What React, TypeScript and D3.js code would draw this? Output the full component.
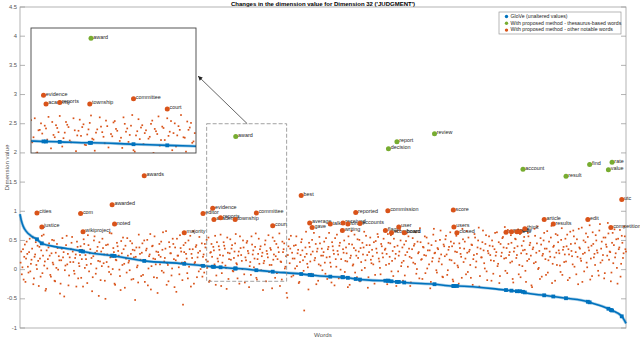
import React from 'react'
import * as d3 from 'd3'

const BLUE = '#0072BD'
const ORANGE = '#D95319'
const GREEN = '#77AC30'
const INK = '#262626'

const title = "Changes in the dimension value for Dimension 32 ('JUDGMENT')"
const yTicks = [-1, -0.5, 0, 0.5, 1, 1.5, 2, 2.5, 3, 3.5, 4, 4.5]
const wordCount = 1000

// notable words (orange): position in the sorted word list, new value, GloVe value
const otherWords = ['cities', 'justice', 'com', 'wikiproject', 'awarded', 'noted', 'awards', 'majority', 'editor', 'evidence', 'academy', 'reports', 'township', 'committee', 'court', 'best', 'average', 'gave', 'talk', 'writing', 'received', 'forum', 'reported', 'accounts', 'flags', 'commission', 'scoreboard', 'user', 'board', 'score', 'users', 'closed', 'related', 'speed', 'early', 'why', 'think', 'article', 'results', 'edit', 'competition', 'utc']
const otherIdx = [28, 36, 100, 104, 152, 156, 205, 271, 302, 318, 320, 331, 355, 390, 417, 464, 478, 482, 512, 532, 533, 541, 554, 561, 603, 607, 613, 625, 634, 715, 716, 721, 802, 811, 820, 825, 833, 865, 880, 937, 975, 993]
const otherValue = [0.97, 0.73, 0.96, 0.65, 1.11, 0.78, 1.61, 0.63, 0.96, 1.05, 0.86, 0.89, 0.86, 0.97, 0.75, 1.27, 0.8, 0.72, 0.78, 0.67, 0.8, 0.78, 0.98, 0.79, 0.67, 1.01, 0.63, 0.73, 0.63, 1.02, 0.73, 0.63, 0.64, 0.65, 0.65, 0.65, 0.7, 0.86, 0.78, 0.86, 0.72, 1.2]
const otherGlove = [0.52, 0.45, 0.32, 0.31, 0.24, 0.235, 0.15, 0.1, 0.065, 0.05, 0.048, 0.04, 0.02, -0.01, -0.035, -0.075, -0.09, -0.095, -0.12, -0.13, -0.13, -0.14, -0.16, -0.17, -0.19, -0.19, -0.2, -0.21, -0.22, -0.28, -0.28, -0.28, -0.35, -0.36, -0.37, -0.37, -0.39, -0.44, -0.46, -0.55, -0.69, -0.8]

// thesaurus-based words (green)
const thesWords = ['award', 'decision', 'report', 'review', 'account', 'result', 'find', 'value', 'rate']
const thesIdx = [356, 608, 622, 684, 830, 901, 940, 971, 977]
const thesValue = [2.28, 2.07, 2.19, 2.33, 1.72, 1.6, 1.8, 1.71, 1.84]
const thesGlove = [0.02, -0.19, -0.21, -0.25, -0.38, -0.49, -0.56, -0.67, -0.7]

// extra points on the GloVe curve (ends of the sorted list)
const gloveEdgeIdx = [0, 2, 5, 10, 18, 60, 1000]
const gloveEdgeVal = [0.95, 0.85, 0.75, 0.66, 0.58, 0.39, -0.92]

// the remaining words after the proposed method (hundredths): odd positions, then even positions
const cloudOdd = [
  12, -8, 35, 22, -21, 48, 5, 30, -3, 17, 55, -15, 26, 8, 41, -28, 19, 33, -6, 60, 14, -33, 2, 38, 24, -12, 51, 9, -19, 29, 44, 0, 16, -24, 36, 21, -46, 7, 58, 27, -10, 13, 46, 31, -2, 20, -29, 39, 11, 25,
  -14, 34, 52, 3, 18, -23, 42, 28, 10, -37, 23, 57, -7, 32, 15, 47, -18, 6, 37, 26, -50, 13, 43, -4, 21, 62, 1, 30, -26, 16, 40, 24, -11, 49, 8, 35, -31, 19, 54, 12, -1, 27, 45, -16, 33, 22, 4, -22, 38, 17,
  29, -9, 50, 14, 36, -27, 23, 61, 6, 41, -13, 18, 31, -40, 25, 9, 48, 34, -5, 20, 66, 11, -20, 39, 28, 2, 44, -30, 16, 53, 24, -8, 37, 12, -60, 30, 46, 19, -15, 5, 58, 27, 35, -24, 13, 42, 21, -3, 32, 8,
  -12, 26, 44, 17, 3, 55, -19, 30, 22, 39, 9, -26, 47, 14, 34, 60, -6, 24, 41, 7, -33, 29, 18, 52, 36, -2, 20, 45, 11, -15, 31, 57, 25, 1, 38, -22, 16, 49, 28, 6, -9, 43, 33, 19, 62, -17, 27, 10, 40, 23,
  -35, 15, 50, 32, 21, -4, 37, 8, 55, 26, -14, 44, 18, 30, -28, 13, 48, 35, 2, 23, -48, 40, 11, 58, 29, -10, 19, 42, 6, 34, -21, 25, 52, 16, -70, 38, 27, 4, 46, 14, -7, 31, 63, 20, -25, 36, 9, 45, 24, -1,
  30, 12, 54, -16, 39, 22, 5, 47, 33, -27, 18, 60, 26, 41, 0, -11, 35, 50, 15, 28, -30, 44, 20, 66, 7, 37, -5, 24, 52, 31, -20, 13, 46, 38, 3, 58, 25, -13, 42, 17, 34, 9, -24, 49, 29, 56, 14, -8, 40, 21,
  -18, 36, 27, 61, 10, 45, -3, 32, 53, 19, -28, 41, 24, 68, 6, 38, 15, -10, 49, 30, 57, 22, -22, 35, 12, 44, 64, 1, 28, -15, 47, 18, 39, 25, -6, 55, 33, 9, -32, 42, 20, 70, 29, -1, 37, 14, 51, 26, -12, 43,
  23, 58, -9, 34, 17, 48, 40, -20, 11, 62, 30, 4, 45, 27, -14, 52, 36, 19, 66, -4, 31, 8, 43, -26, 25, 55, 14, 38, 72, -11, 21, 47, 33, 2, 59, -18, 28, 41, 16, 50, -7, 35, 24, 64, 10, -23, 44, 29, 56, 19,
  -2, 37, 68, 25, 12, 46, -16, 31, 53, 20, 40, -8, 61, 28, 6, 49, 34, -21, 15, 57, 42, 24, -30, 38, 70, 13, 45, 1, 32, 54, -12, 27, 63, 18, 36, -5, 48, 22, 75, 10, 41, -19, 29, 59, 33, 7, 51, -9, 39, 26,
  14, 60, 35, -14, 44, 23, 67, 5, 30, 52, -25, 38, 19, 72, 27, -3, 47, 12, 56, 33, -17, 41, 64, 21, 8, 50, 29, -10, 78, 36, 16, 55, -6, 43, 24, 62, 31, -20, 46, 11, 69, 28, 3, 53, 38, -12, 58, 20, 74, 35,
]
const cloudEven = [
  31, 4, -17, 43, 19, 27, -5, 53, 10, 36, -25, 22, 47, 1, 15, 39, -12, 58, 24, 7, -36, 33, 18, 45, -9, 28, 12, 50, -20, 3, 37, 23, -41, 16, 54, 30, -1, 42, 9, -27, 21, 35, 56, 13, -7, 26, 48, -15, 6, 40,
  18, -29, 44, 25, 8, 59, -3, 35, 20, -13, 50, 29, 2, 39, -45, 14, 31, 53, 11, -19, 42, 26, 5, 63, -8, 22, 37, -24, 17, 46, 32, 0, -35, 28, 55, 10, 41, -5, 24, 15, 49, -17, 34, 21, -52, 38, 7, 60, 27, -11,
  45, 16, -21, 33, 51, 2, 26, -34, 40, 19, 57, 9, -14, 30, 44, 22, -2, 64, 14, 36, -26, 8, 47, 28, -10, 53, 18, 38, -38, 24, 4, 59, 31, -18, 42, 13, 27, -6, 50, 35, -29, 20, 66, 11, 39, -13, 29, 56, 1, 45,
  22, -5, 38, 51, 14, -21, 29, 44, 6, 33, 58, -10, 19, 40, 25, -28, 12, 47, 36, 3, 55, -16, 28, 17, 42, -3, 31, 61, 9, 24, -24, 37, 15, 50, -8, 21, 46, 32, -30, 13, 57, 26, 4, 39, -14, 18, 53, 35, -1, 29,
  11, 43, -20, 27, 59, 8, 34, -32, 17, 49, 23, -6, 38, 62, 14, -17, 30, 45, 5, -40, 25, 52, 36, -12, 19, 41, 2, 57, 28, -23, 13, 47, 33, -2, 22, 65, 10, -34, 39, 26, 51, -9, 16, 44, 31, -19, 56, 7, 36, 24,
  48, -7, 21, 35, 63, 12, -22, 40, 27, 54, 5, 32, -15, 46, 18, 69, 29, -4, 38, 14, 57, -26, 24, 43, 9, 60, 33, -13, 20, 51, 37, -1, 26, 65, 16, 42, -31, 30, 55, 11, 23, 47, -9, 36, 61, 19, 3, 44, 28, 53,
  34, 8, -25, 46, 22, 59, 15, -11, 39, 27, 66, -3, 31, 50, 12, -19, 43, 25, 62, 5, 36, -28, 20, 54, 41, 10, -7, 48, 30, 71, 17, -16, 38, 57, 24, 2, 45, 33, -21, 14, 60, 28, 49, -5, 35, 19, 67, 9, -13, 40,
  52, 26, -1, 39, 64, 16, -17, 45, 31, 58, 7, -24, 37, 22, 70, 13, 48, -8, 29, 55, 34, -14, 42, 18, 61, 4, 27, 50, -29, 36, 21, 67, 11, 44, -3, 32, 57, 25, -19, 40, 15, 63, 30, 6, 47, -11, 23, 54, 38, 73,
  20, -6, 44, 30, 59, 14, -22, 37, 52, 25, 69, 8, -13, 41, 33, 56, -2, 27, 63, 18, 46, -27, 35, 11, 58, 29, 74, 3, -16, 43, 24, 50, 36, -9, 66, 16, 31, 55, -23, 39, 21, 61, 8, 47, 28, -4, 71, 34, 13, 53,
  40, -18, 26, 65, 32, 9, 57, 45, -8, 22, 70, 36, 15, -21, 50, 29, 62, 4, 38, 76, 19, -11, 44, 27, 59, 33, -2, 67, 12, 48, 25, -15, 55, 39, 80, 17, 30, -5, 63, 42, 21, 52, -24, 35, 68, 10, 46, 28, 57, 31,
]

// zoomed region shown in the inset
const zoomIdx = [308, 440]
const zoomVal = [-0.2, 2.5]

const legendItems = ['GloVe (unaltered values)', 'With proposed method - thesaurus-based words', 'With proposed method - other notable words']
const legendColors = [BLUE, GREEN, ORANGE]

const font = "'Liberation Sans', Arial, Helvetica, sans-serif"
const labelSize = 5.4

export default function App() {
  const width = 640
  const height = 351
  const plot = { left: 20, right: 626, top: 7, bottom: 328 }
  const inset = { left: 31, right: 196, top: 28, bottom: 153 }

  const x = d3.scaleLinear().domain([0, wordCount]).range([plot.left, plot.right])
  const y = d3.scaleLinear().domain([-1, 4.5]).range([plot.bottom, plot.top])
  const ix = d3.scaleLinear().domain(zoomIdx).range([inset.left, inset.right])
  const iy = d3.scaleLinear().domain(zoomVal).range([inset.bottom, inset.top])

  const cloud = [
    ...cloudOdd.map((v, i) => ({ idx: 1 + i * 2, v: v / 100 })),
    ...cloudEven.map((v, i) => ({ idx: 2 + i * 2, v: v / 100 })),
  ]
  const others = otherWords.map((w, i) => ({ w, idx: otherIdx[i], v: otherValue[i], g: otherGlove[i] }))
  const thes = thesWords.map((w, i) => ({ w, idx: thesIdx[i], v: thesValue[i], g: thesGlove[i] }))
  const marked = [...others, ...thes].sort((a, b) => a.idx - b.idx)
  const curve = [
    ...marked.map(d => ({ idx: d.idx, v: d.g })),
    ...gloveEdgeIdx.map((idx, i) => ({ idx, v: gloveEdgeVal[i] })),
  ].sort((a, b) => a.idx - b.idx)

  const layer = (sx: any, sy: any, onlyZoom: boolean) => {
    const line = d3.line<any>().x(d => sx(d.idx)).y(d => sy(d.v)).curve(d3.curveMonotoneX)
    const near = (idx: number) => !onlyZoom || (idx >= zoomIdx[0] - 6 && idx <= zoomIdx[1] + 6)
    const inside = (idx: number) => !onlyZoom || (idx >= zoomIdx[0] && idx <= zoomIdx[1])
    const path = line(curve) || ''
    return (
      <g>
        {cloud.filter(d => near(d.idx)).map((d, i) => (
          <rect key={'c' + i} x={sx(d.idx) - 0.85} y={sy(d.v) - 0.85} width={1.7} height={1.7} fill={ORANGE} />
        ))}
        <path d={path} fill="none" stroke={BLUE} strokeOpacity={0.35} strokeWidth={3} />
        <path d={path} fill="none" stroke={BLUE} strokeWidth={1.6} />
        {marked.filter(d => near(d.idx)).map((d, i) => (
          <rect key={'m' + i} x={sx(d.idx) - 1.9} y={sy(d.g) - 1.9} width={3.8} height={3.8} fill={BLUE} />
        ))}
        {others.filter(d => inside(d.idx)).map((d, i) => (
          <g key={'o' + i}>
            <circle cx={sx(d.idx)} cy={sy(d.v)} r={2.5} fill={ORANGE} />
            <text x={sx(d.idx) + 2.3} y={sy(d.v) - 1} dominantBaseline="middle" fontSize={labelSize} fill={INK}>{d.w}</text>
          </g>
        ))}
        {thes.filter(d => inside(d.idx)).map((d, i) => (
          <g key={'t' + i}>
            <circle cx={sx(d.idx)} cy={sy(d.v)} r={2.5} fill={GREEN} />
            <text x={sx(d.idx) + 2.3} y={sy(d.v) - 1} dominantBaseline="middle" fontSize={labelSize} fill={INK}>{d.w}</text>
          </g>
        ))}
      </g>
    )
  }

  const arrowFrom = [x(375), y(zoomVal[1])]
  const arrowTo = [inset.right + 2, 76]
  const ang = Math.atan2(arrowTo[1] - arrowFrom[1], arrowTo[0] - arrowFrom[0])
  const head = [ang + 0.45, ang - 0.45].map(a => [arrowTo[0] - 5 * Math.cos(a), arrowTo[1] - 5 * Math.sin(a)])

  return (
    <svg width={width} height={height} style={{ position: 'absolute', left: 0, top: 0, background: '#fff' }} fontFamily={font}>
      <defs>
        <clipPath id="insetClip">
          <rect x={inset.left} y={inset.top} width={inset.right - inset.left} height={inset.bottom - inset.top} />
        </clipPath>
      </defs>

      <text x={(plot.left + plot.right) / 2} y={5.5} textAnchor="middle" fontSize={6} fontWeight="bold" fill="#000">{title}</text>

      {/* axes box */}
      <rect x={plot.left} y={plot.top} width={plot.right - plot.left} height={plot.bottom - plot.top} fill="#fff" stroke="#a0a0a0" strokeWidth={0.8} />
      {yTicks.map(t => (
        <g key={t}>
          <line x1={plot.left} x2={plot.left + 5} y1={y(t)} y2={y(t)} stroke="#a0a0a0" strokeWidth={0.8} />
          <line x1={plot.right} x2={plot.right - 5} y1={y(t)} y2={y(t)} stroke="#a0a0a0" strokeWidth={0.8} />
          <text x={plot.left - 3} y={y(t)} textAnchor="end" dominantBaseline="middle" fontSize={5.8} fill="#555">{t}</text>
        </g>
      ))}
      <text transform={`translate(7,${(plot.top + plot.bottom) / 2}) rotate(-90)`} textAnchor="middle" dominantBaseline="middle" fontSize={6.2} fill="#555">Dimension value</text>
      <text x={(plot.left + plot.right) / 2} y={335} textAnchor="middle" dominantBaseline="middle" fontSize={6.2} fill="#555">Words</text>

      <g>{layer(x, y, false)}</g>

      {/* zoom region */}
      <rect x={x(zoomIdx[0])} y={y(zoomVal[1])} width={x(zoomIdx[1]) - x(zoomIdx[0])} height={y(zoomVal[0]) - y(zoomVal[1])} fill="none" stroke="#8a8a8a" strokeWidth={0.8} strokeDasharray="4,2" />
      <line x1={arrowFrom[0]} y1={arrowFrom[1]} x2={arrowTo[0]} y2={arrowTo[1]} stroke="#222" strokeWidth={0.7} />
      <path d={`M${arrowTo[0]},${arrowTo[1]}L${head[0][0]},${head[0][1]}L${head[1][0]},${head[1][1]}Z`} fill="#222" />

      {/* inset */}
      <rect x={inset.left} y={inset.top} width={inset.right - inset.left} height={inset.bottom - inset.top} fill="#fff" />
      <g clipPath="url(#insetClip)">{layer(ix, iy, true)}</g>
      <rect x={inset.left} y={inset.top} width={inset.right - inset.left} height={inset.bottom - inset.top} fill="none" stroke="#444" strokeWidth={0.9} />

      {/* legend */}
      <g transform="translate(499,12)">
        <rect width={122} height={22} fill="#fff" stroke="#999" strokeWidth={0.7} />
        {legendItems.map((t, i) => (
          <g key={t} transform={`translate(0,${4.5 + i * 6.8})`}>
            <circle cx={7.5} cy={0} r={1.7} fill={legendColors[i]} />
            <text x={11.5} y={0} dominantBaseline="middle" fontSize={5.2} fill={INK}>{t}</text>
          </g>
        ))}
      </g>
    </svg>
  )
}
